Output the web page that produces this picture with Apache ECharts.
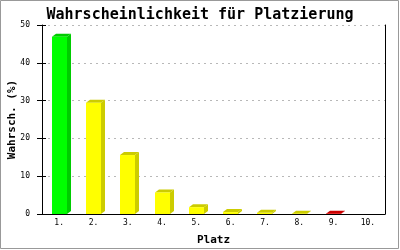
<!DOCTYPE html>
<html>
<head>
<meta charset="utf-8">
<script src="https://cdn.jsdelivr.net/npm/echarts@6/dist/echarts.min.js"></script>
<style>
html,body{margin:0;padding:0;background:#fff;}
#chart{width:400px;height:250px;}
</style>
</head>
<body>
<div id="chart"></div>
<script>
const categories = ['1.', '2.', '3.', '4.', '5.', '6.', '7.', '8.', '9.', '10.'];
const values = [46.9, 29.4, 15.6, 5.7, 1.8, 0.5, 0.3, 0.08, 0.08, 0];
const yTicks = [0, 10, 20, 30, 40, 50];
const titleText = 'Wahrscheinlichkeit für Platzierung';
const xName = 'Platz';
const yName = 'Wahrsch. (%)';

// styles (kept separate from data)
const frontColors = ['#00ff00', '#ffff00', '#ffff00', '#ffff00', '#ffff00', '#ffff00', '#ffff00', '#ffff00', '#ff0000', '#ff0000'];
const shadeColors = ['#00cc00', '#cccc00', '#cccc00', '#cccc00', '#cccc00', '#cccc00', '#cccc00', '#cccc00', '#cc0000', '#cc0000'];

const mono = 'DejaVu Sans Mono';
const yMin = yTicks[0], yMax = yTicks[yTicks.length - 1], yInt = yTicks[1] - yTicks[0];

const chart = echarts.init(document.getElementById('chart'), null, {renderer: 'canvas'});

const seriesData = categories.map((c, i) => [i, values[i]]);

chart.setOption({
  animation: false,
  backgroundColor: '#fff',
  title: {
    text: titleText,
    left: 'center',
    top: 3,
    textStyle: {fontFamily: mono, fontSize: 15, fontWeight: 'bold', color: '#000'}
  },
  grid: {left: 42, right: 15, top: 25, bottom: 36, containLabel: false, outerBoundsMode: 'none'},
  xAxis: {
    type: 'category',
    data: categories,
    name: xName,
    nameLocation: 'middle',
    nameGap: 21,
    nameMoveOverlap: false,
    nameTextStyle: {fontFamily: mono, fontSize: 11, fontWeight: 'bold', color: '#000'},
    axisLine: {lineStyle: {color: '#000', width: 1}},
    axisTick: {show: false},
    axisLabel: {fontFamily: mono, fontSize: 8, color: '#000', margin: 5},
    splitLine: {show: false}
  },
  yAxis: [
    {
      type: 'value', min: yMin, max: yMax, interval: yInt,
      name: yName,
      nameLocation: 'middle',
      nameGap: 24,
      nameMoveOverlap: false,
      nameTextStyle: {fontFamily: mono, fontSize: 11, fontWeight: 'bold', color: '#000'},
      axisLine: {show: true, lineStyle: {color: '#000', width: 1}},
      axisTick: {show: true, length: 5, lineStyle: {color: '#000'}},
      axisLabel: {fontFamily: mono, fontSize: 8, color: '#000', margin: 12},
      splitLine: {show: true, lineStyle: {color: '#b8b8b8', type: [2, 4], width: 1}}
    },
    {
      type: 'value', min: yMin, max: yMax, interval: yInt, position: 'left',
      axisLine: {show: false},
      axisTick: {show: true, inside: true, length: 4, lineStyle: {color: '#000'}},
      axisLabel: {show: false},
      splitLine: {show: false}
    },
    {
      type: 'value', min: yMin, max: yMax, interval: yInt, position: 'right',
      axisLine: {show: true, lineStyle: {color: '#000', width: 1}},
      axisTick: {show: false},
      axisLabel: {show: false},
      splitLine: {show: false}
    }
  ],
  graphic: [{
    type: 'rect',
    shape: {x: 0.5, y: 0.5, width: 398, height: 248},
    style: {fill: 'none', stroke: '#999', lineWidth: 1},
    silent: true
  }],
  series: [{
    type: 'custom',
    data: seriesData,
    z: 3,
    renderItem: function (params, api) {
      const idx = api.value(0);
      const v = api.value(1);
      if (!(v > 0)) return null;
      const p0 = api.coord([idx, 0]);
      const p1 = api.coord([idx, v]);
      const w = 15, dx = 4, dy = 3;
      const x0 = Math.round(p0[0] - w / 2), x1 = x0 + w;
      const yb = p0[1], yt = p1[1];
      const front = frontColors[params.dataIndex];
      const shade = shadeColors[params.dataIndex];
      return {
        type: 'group',
        children: [
          {type: 'polygon', shape: {points: [[x1, yt], [x1 + dx, yt - dy], [x1 + dx, yb - dy], [x1, yb]]}, style: {fill: shade}},
          {type: 'polygon', shape: {points: [[x0, yt], [x0 + dx, yt - dy], [x1 + dx, yt - dy], [x1, yt]]}, style: {fill: shade}},
          {type: 'rect', shape: {x: x0, y: yt, width: w, height: yb - yt}, style: {fill: front}}
        ]
      };
    }
  }]
});
</script>
</body>
</html>
